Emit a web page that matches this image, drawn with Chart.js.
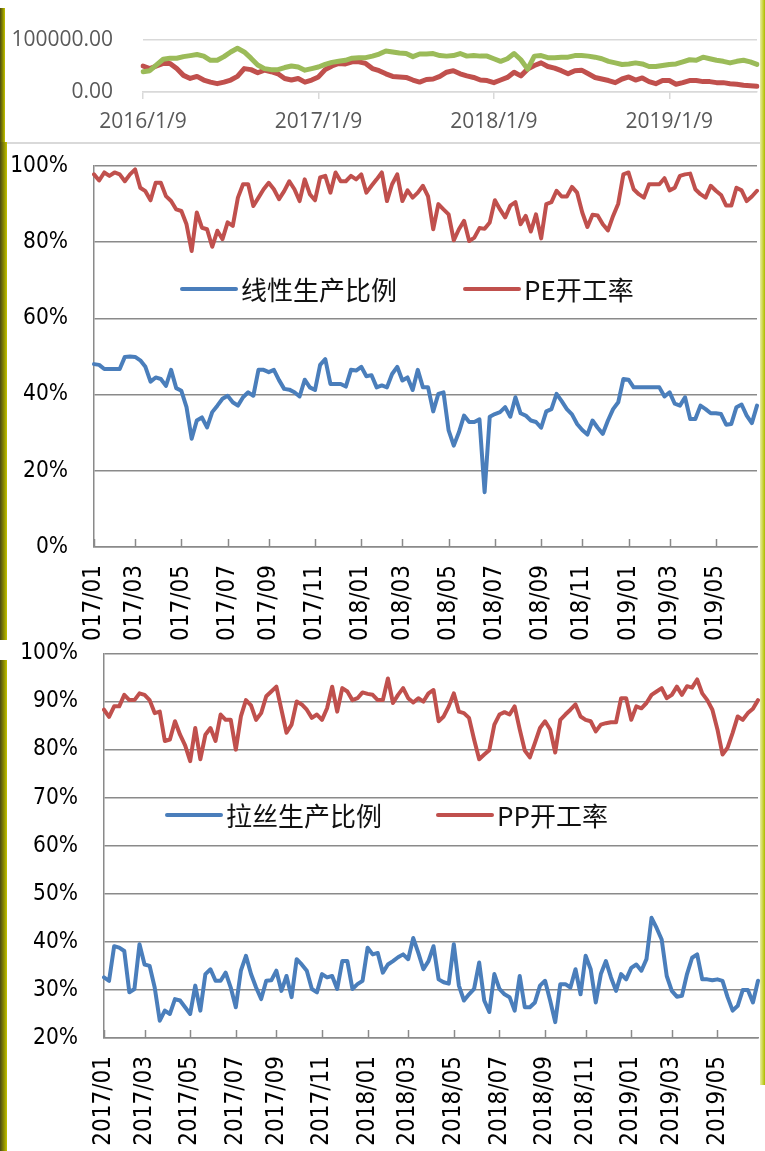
<!DOCTYPE html>
<html>
<head>
<meta charset="utf-8">
<script src="https://cdn.jsdelivr.net/npm/chart.js@4.4.0/dist/chart.umd.min.js"></script>
<style>
  html, body { margin: 0; padding: 0; background: #fff; }
  #page { position: relative; width: 765px; height: 1151px; overflow: hidden; background: #fff; }
  canvas { position: absolute; left: 0; }
  .strip { position: absolute; background: linear-gradient(to right, #4a4a14, #8a8a00 55%, #c2c200); }
  .rstrip { position: absolute; background: linear-gradient(to right, #e8eea8, #c9d43a 60%, #aab800); }
  .sep { position: absolute; background: #d9d9d9; }
</style>
</head>
<body>
<div id="page">
  <canvas id="topChart" width="765" height="141" style="top:0"></canvas>
  <canvas id="peChart" width="765" height="495" style="top:145px"></canvas>
  <canvas id="ppChart" width="765" height="511" style="top:640px"></canvas>
  <div class="sep" style="left:6px; top:142px; width:754px; height:2px"></div>
  <div class="strip" style="left:0; top:8px; width:5px; height:134px"></div>
  <div class="strip" style="left:0; top:142px; width:7px; height:498px"></div>
  <div class="strip" style="left:0; top:660px; width:7px; height:491px"></div>
  <div class="rstrip" style="left:760px; top:0; width:5px; height:1085px"></div>
</div>
<script>
'use strict';

// ── top chart: two series, biweekly from 2016/1/9 ─────────────────────────────
const topTicks = ['2016/1/9', '2017/1/9', '2018/1/9', '2019/1/9'];
const topGreen = [
  39000, 41000, 52000, 63000, 65000, 65000, 68000, 70000, 72000, 69000,
  61000, 61000, 68000, 77000, 84000, 77000, 65000, 52000, 45000, 43000,
  43000, 47000, 50000, 48000, 42000, 45000, 48000, 53000, 57000, 59000,
  61000, 65000, 66000, 66000, 69000, 73000, 79000, 77000, 75000, 74000,
  68000, 73000, 73000, 74000, 70000, 69000, 70000, 74000, 69000, 70000,
  69000, 69000, 64000, 59000, 64000, 74000, 62000, 44000, 69000, 70000,
  66000, 66000, 67000, 67000, 70000, 70000, 69000, 67000, 64000, 59000,
  56000, 53000, 54000, 56000, 54000, 49000, 49000, 51000, 53000, 54000,
  58000, 62000, 61000, 67000, 64000, 61000, 59000, 56000, 59000, 61000,
  58000, 53000
];
const topRed = [
  50000, 45000, 50000, 55000, 55000, 45000, 32000, 26000, 30000, 23000,
  19000, 16000, 19000, 23000, 30000, 45000, 43000, 37000, 42000, 39000,
  35000, 26000, 23000, 26000, 19000, 23000, 29000, 43000, 50000, 55000,
  54000, 58000, 58000, 55000, 45000, 41000, 35000, 30000, 29000, 28000,
  23000, 19000, 24000, 25000, 30000, 38000, 41000, 35000, 31000, 28000,
  23000, 22000, 18000, 23000, 28000, 38000, 31000, 44000, 51000, 56000,
  49000, 46000, 41000, 35000, 41000, 42000, 35000, 28000, 25000, 22000,
  18000, 25000, 29000, 23000, 27000, 20000, 16000, 22000, 22000, 15000,
  18000, 22000, 22000, 20000, 20000, 18000, 18000, 16000, 15000, 13000,
  12000, 11000
];

// ── PE / PP charts: weekly from 2017/01/06 ───────────────────────────────────
const monthTicks = [
  '2017/01', '2017/03', '2017/05', '2017/07', '2017/09', '2017/11',
  '2018/01', '2018/03', '2018/05', '2018/07', '2018/09', '2018/11',
  '2019/01', '2019/03', '2019/05'
];
const peLinear = [
  48.0, 47.8, 46.7, 46.7, 46.7, 46.7, 49.9, 50.0, 49.9, 49.0,
  47.3, 43.4, 44.5, 44.1, 42.3, 46.5, 41.7, 41.0, 36.7, 28.4,
  33.2, 34.0, 31.4, 35.4, 37.1, 38.9, 39.7, 38.0, 37.1, 39.3,
  40.6, 39.7, 46.5, 46.5, 45.9, 46.5, 43.8, 41.5, 41.3, 40.6,
  39.5, 43.9, 41.9, 41.2, 47.8, 49.3, 42.8, 42.8, 42.8, 42.1,
  46.5, 46.3, 47.3, 44.8, 45.1, 41.9, 42.4, 41.9, 45.4, 47.3,
  43.7, 44.5, 41.2, 46.5, 41.9, 41.9, 35.6, 40.2, 40.6, 30.6,
  26.6, 30.1, 34.5, 32.8, 32.8, 33.5, 14.4, 34.2, 34.9, 35.4,
  36.7, 34.2, 39.3, 35.1, 34.5, 33.2, 32.8, 31.3, 35.6, 36.2,
  40.2, 38.3, 36.2, 34.8, 32.3, 30.7, 29.5, 33.2, 31.3, 29.7,
  33.2, 36.2, 38.0, 44.1, 43.9, 41.9, 41.9, 41.9, 41.9, 41.9,
  41.9, 39.5, 40.6, 37.6, 37.1, 39.3, 33.6, 33.6, 37.1, 36.2,
  35.1, 35.1, 34.9, 32.1, 32.3, 36.7, 37.4, 34.5, 32.5, 37.1
];
const peRate = [
  97.8, 96.2, 98.3, 97.4, 98.3, 97.8, 96.0, 97.8, 99.1, 94.3,
  93.4, 91.0, 95.6, 95.6, 92.1, 90.8, 88.6, 88.2, 84.7, 77.7,
  87.8, 83.8, 83.4, 78.8, 83.0, 80.8, 85.2, 84.3, 91.7, 95.2,
  95.2, 89.5, 91.7, 93.9, 95.6, 93.9, 91.3, 93.4, 96.0, 93.9,
  90.8, 96.5, 92.6, 91.0, 97.0, 97.4, 93.0, 98.3, 96.0, 96.0,
  97.4, 96.5, 97.8, 93.0, 94.8, 96.5, 98.3, 90.8, 95.2, 97.8,
  90.8, 93.6, 91.7, 93.0, 94.8, 92.0, 83.4, 90.0, 88.6, 87.3,
  80.5, 83.4, 85.6, 80.3, 81.2, 83.7, 83.5, 85.2, 91.0, 88.6,
  86.5, 89.6, 90.5, 84.7, 86.9, 82.8, 87.3, 81.0, 90.0, 90.5,
  93.5, 92.0, 92.0, 94.5, 93.0, 87.8, 84.0, 87.2, 87.0, 84.7,
  83.1, 86.9, 90.1, 97.8, 98.3, 93.9, 92.6, 91.7, 95.2, 95.2,
  95.2, 96.8, 93.6, 94.3, 97.4, 97.8, 98.0, 93.9, 92.6, 91.7,
  94.8, 93.5, 92.4, 89.6, 89.6, 94.3, 93.6, 90.8, 92.0, 93.5
];
const ppDrawing = [
  32.6, 31.9, 39.1, 38.8, 38.1, 29.5, 30.2, 39.5, 35.3, 35.0,
  30.5, 23.6, 25.7, 25.0, 28.1, 27.8, 26.4, 25.0, 30.9, 25.7,
  33.3, 34.3, 31.9, 31.9, 33.6, 30.5, 26.4, 34.0, 37.1, 33.3,
  30.5, 28.1, 31.9, 32.0, 34.0, 29.8, 32.9, 28.5, 36.4, 35.3,
  34.0, 30.2, 29.5, 33.3, 32.6, 32.9, 30.2, 36.0, 36.0, 30.2,
  31.2, 31.9, 38.8, 37.4, 37.7, 33.6, 35.3, 36.0, 36.8, 37.4,
  36.4, 40.8, 37.7, 34.3, 36.0, 39.1, 32.2, 31.6, 31.3, 39.5,
  30.9, 27.8, 29.1, 30.2, 35.7, 27.8, 25.4, 33.3, 30.2, 29.1,
  28.5, 25.7, 32.9, 26.4, 26.4, 27.4, 30.9, 31.9, 27.8, 23.3,
  31.2, 31.2, 30.5, 34.3, 29.1, 37.1, 34.3, 27.4, 33.3, 36.0,
  32.6, 29.8, 33.3, 32.2, 34.6, 35.3, 34.0, 36.4, 45.0, 42.9,
  40.5, 32.9, 29.8, 28.6, 28.8, 33.3, 36.7, 37.4, 32.2, 32.2,
  32.0, 32.2, 31.9, 28.5, 25.7, 26.7, 30.0, 30.0, 27.4, 31.9
];
const ppRate = [
  88.3, 86.8, 89.0, 89.0, 91.4, 90.3, 90.3, 91.7, 91.4, 90.3,
  87.6, 87.9, 81.8, 82.1, 85.9, 83.1, 80.9, 77.6, 84.5, 78.0,
  83.1, 84.5, 81.8, 87.3, 86.2, 86.2, 80.0, 86.9, 90.3, 89.2,
  86.2, 87.6, 91.1, 92.1, 93.1, 88.3, 83.5, 85.2, 90.0, 89.4,
  88.3, 86.6, 87.3, 86.2, 88.6, 93.1, 87.9, 92.8, 92.1, 90.3,
  90.7, 91.9, 91.6, 91.4, 90.3, 90.3, 94.8, 89.7, 91.4, 92.8,
  90.7, 89.8, 90.7, 90.0, 91.7, 92.4, 85.9, 86.9, 89.0, 91.7,
  87.9, 87.6, 86.6, 82.1, 78.0, 79.0, 79.9, 85.2, 87.3, 87.8,
  87.3, 89.0, 84.2, 79.8, 78.4, 81.4, 84.5, 85.9, 84.2, 79.4,
  86.2, 87.3, 88.3, 89.4, 86.9, 86.2, 85.9, 83.8, 85.2, 85.5,
  85.7, 85.7, 90.7, 90.7, 86.2, 89.0, 88.6, 89.7, 91.4, 92.1,
  92.8, 90.7, 91.4, 93.1, 91.4, 93.2, 92.9, 94.6, 91.7, 90.3,
  88.3, 84.2, 79.0, 80.4, 83.5, 86.9, 86.2, 87.6, 88.5, 90.3
];

const RED   = '#c0504d';
const BLUE  = '#4a7ebb';
const GREEN = '#9bbb59';
const GRID  = '#8a8a8a';
const AXIS_FONT = "'DejaVu Sans Condensed', 'Liberation Sans', sans-serif";

// ── helpers ──────────────────────────────────────────────────────────────────
function dateSeries(start, stepDays, n) {
  const out = [];
  for (let i = 0; i < n; i++) {
    const d = new Date(start);
    d.setDate(d.getDate() + stepDays * i);
    out.push(d);
  }
  return out;
}
const ym = d => d.getFullYear() + '/' + String(d.getMonth() + 1).padStart(2, '0');

// top chart categories and where its 4 labels go
const topDates = dateSeries(new Date(2016, 0, 9), 14, topGreen.length);
const topTickAt = {};
topTicks.forEach(t => {
  const [y, m, d] = t.split('/').map(Number);
  const target = new Date(y, m - 1, d).getTime();
  let best = 0;
  topDates.forEach((dt, i) => {
    if (Math.abs(dt - target) < Math.abs(topDates[best] - target)) best = i;
  });
  topTickAt[best] = t;
});

// weekly categories, month label on first week of each listed month
const weeks = dateSeries(new Date(2017, 0, 6), 7, peRate.length);
const weekTickAt = {};
monthTicks.forEach(t => {
  const i = weeks.findIndex(d => ym(d) === t);
  if (i >= 0) weekTickAt[i] = t;
});

// small tick marks pointing into the plot (Excel style)
const insideTicks = {
  id: 'insideTicks',
  afterDatasetsDraw(chart, args, opts) {
    if (!opts.length) return;
    const sx = chart.scales.x, ctx = chart.ctx, bottom = chart.chartArea.bottom;
    ctx.save();
    ctx.strokeStyle = opts.color;
    ctx.lineWidth = opts.width;
    sx.ticks.forEach((t, i) => {
      if (!t.label) return;
      const px = Math.round(sx.getPixelForTick(i)) + 0.5;
      ctx.beginPath();
      ctx.moveTo(px, bottom);
      ctx.lineTo(px, bottom - opts.length);
      ctx.stroke();
    });
    ctx.restore();
  }
};

// legend drawn inside the plot area
const inlineLegend = {
  id: 'inlineLegend',
  afterDraw(chart, args, opts) {
    if (!opts.items) return;
    const ctx = chart.ctx;
    ctx.save();
    ctx.font = opts.font;
    ctx.textBaseline = 'middle';
    ctx.fillStyle = opts.color;
    chart.data.datasets.forEach((ds, i) => {
      const x = opts.items[i];
      if (x == null) return;
      ctx.strokeStyle = ds.borderColor;
      ctx.lineWidth = 4;
      ctx.lineCap = 'round';
      ctx.beginPath();
      ctx.moveTo(x, opts.y);
      ctx.lineTo(x + opts.lineLen, opts.y);
      ctx.stroke();
      ctx.fillText(ds.label, x + opts.lineLen + 5, opts.y + 1);
    });
    ctx.restore();
  }
};

Chart.register(insideTicks, inlineLegend);
Chart.defaults.animation = false;

function lineSet(label, data, color, width) {
  return {
    label, data,
    borderColor: color, backgroundColor: color,
    borderWidth: width, pointRadius: 0, tension: 0,
    borderJoinStyle: 'round', borderCapStyle: 'round',
  };
}

// ── top chart ────────────────────────────────────────────────────────────────
// y label gap comes from an invisible tick mark, so ticks.padding stays 0
// (padding would also be added to the plot's top inset)
new Chart(document.getElementById('topChart'), {
  type: 'line',
  data: {
    labels: topDates.map(d => d.toISOString().slice(0, 10)),
    datasets: [
      lineSet('', topGreen, GREEN, 5),
      lineSet('', topRed, RED, 5),
    ],
  },
  options: {
    responsive: false,
    layout: { padding: { top: 40, right: 8, left: 0, bottom: 0 } },
    plugins: { legend: { display: false }, tooltip: { enabled: false } },
    scales: {
      x: {
        afterFit: s => { s.height = 49; },
        border: { color: '#d9d9d9', width: 1.5 },
        grid: { drawOnChartArea: false, drawTicks: true, tickLength: 7, color: '#d9d9d9', lineWidth: 1.5 },
        ticks: {
          autoSkip: false, maxRotation: 0, minRotation: 0, padding: 10,
          color: '#595959', font: { family: 'Open Sans', size: 21 },
          callback: (v, i) => topTickAt[i] ?? null,
        },
      },
      y: {
        min: 0, max: 100000,
        afterFit: s => { s.width = 143; },
        border: { display: false },
        grid: { color: '#d9d9d9', lineWidth: 1.5, drawTicks: true, tickLength: 30, tickColor: 'rgba(0,0,0,0)' },
        ticks: {
          stepSize: 100000, padding: 0,
          color: '#595959', font: { family: 'Open Sans', size: 21 },
          callback: v => v.toFixed(2),
        },
      },
    },
  },
});

// ── PE / PP charts ───────────────────────────────────────────────────────────
function weeklyChart(id, sets, yMin, yStep, layout, legend) {
  return new Chart(document.getElementById(id), {
    type: 'line',
    data: { labels: weeks.map(ym), datasets: sets },
    options: {
      responsive: false,
      layout: { padding: { top: layout.top, right: layout.right, left: 0, bottom: 0 } },
      plugins: {
        legend: { display: false },
        tooltip: { enabled: false },
        insideTicks: { length: 8, color: GRID, width: 1.5 },
        inlineLegend: legend,
      },
      scales: {
        x: {
          afterFit: s => { s.height = layout.xHeight; },
          border: { color: GRID, width: 1.5 },
          grid: { drawOnChartArea: false, drawTicks: false },
          ticks: {
            autoSkip: false, maxRotation: 90, minRotation: 90, padding: 18,
            color: '#000', font: { family: AXIS_FONT, size: 24 },
            callback: (v, i) => weekTickAt[i] ?? null,
          },
        },
        y: {
          min: yMin, max: 100,
          afterFit: s => { s.width = layout.yWidth; },
          border: { color: GRID, width: 1.5 },
          grid: { color: GRID, lineWidth: 1.5, drawTicks: true, tickLength: 26, tickColor: 'rgba(0,0,0,0)' },
          ticks: {
            stepSize: yStep, padding: 0,
            color: '#000', font: { family: AXIS_FONT, size: 22.5 },
            callback: v => v + '%',
          },
        },
      },
    },
  });
}

weeklyChart('peChart', [
  lineSet('线性生产比例', peLinear, BLUE, 4),
  lineSet('PE开工率', peRate, RED, 4),
], 0, 20,
{ top: 21, right: 8, xHeight: 93, yWidth: 94 },
{ items: [182, 465], y: 144, lineLen: 54, font: '26px "Noto Sans CJK SC"', color: '#111' });

weeklyChart('ppChart', [
  lineSet('拉丝生产比例', ppDrawing, BLUE, 4),
  lineSet('PP开工率', ppRate, RED, 4),
], 20, 10,
{ top: 10, right: 7, xHeight: 113, yWidth: 104 },
{ items: [167, 438], y: 175, lineLen: 54, font: '26px "Noto Sans CJK SC"', color: '#111' });
</script>
</body>
</html>
